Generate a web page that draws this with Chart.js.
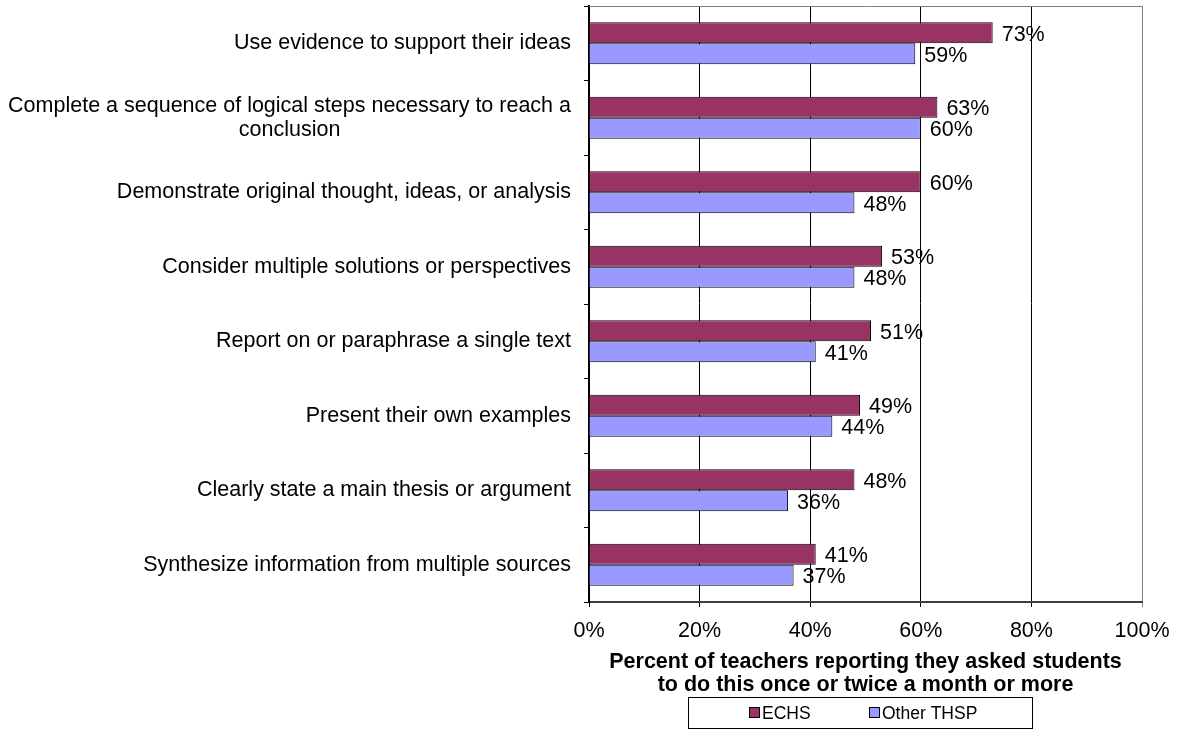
<!DOCTYPE html>
<html>
<head>
<meta charset="utf-8">
<script src="https://cdn.jsdelivr.net/npm/chart.js@4/dist/chart.umd.min.js"></script>
<style>
  body { margin: 0; background: #fff; }
</style>
</head>
<body>
<canvas id="grafico" width="1178" height="730"></canvas>
<script>
/* Categories (top to bottom) and the two series, in percent */
var categorias = [
    'Use evidence to support their ideas',
    ['Complete a sequence of logical steps necessary to reach a', 'conclusion'],
    'Demonstrate original thought, ideas, or analysis',
    'Consider multiple solutions or perspectives',
    'Report on or paraphrase a single text',
    'Present their own examples',
    'Clearly state a main thesis or argument',
    'Synthesize information from multiple sources'
];
var valoresECHS = [73, 63, 60, 53, 51, 49, 48, 41];
var valoresOtros = [59, 60, 48, 48, 41, 44, 36, 37];
var nombresSeries = ['ECHS', 'Other THSP'];
var coloresSeries = ['#993366', '#9999FF'];
var tituloEjeX = ['Percent of teachers reporting they asked students', 'to do this once or twice a month or more'];

var fuente = 'Arial, "Liberation Sans", sans-serif';
var tamano = 21.5;

/* Gray line along the top of the plot area */
var marcoGris = {
    id: 'marcoGris',
    beforeDatasetsDraw: function (chart) {
        var a = chart.chartArea, c = chart.ctx;
        c.save();
        c.strokeStyle = '#808080';
        c.lineWidth = 1;
        c.beginPath();
        c.moveTo(a.left, Math.round(a.top) + 0.5);
        c.lineTo(a.right + 0.5, Math.round(a.top) + 0.5);
        c.stroke();
        c.restore();
    }
};

/* Category names to the left, wrapped lines centred on each other */
var etiquetasCategorias = {
    id: 'etiquetasCategorias',
    afterDraw: function (chart) {
        var c = chart.ctx, escalaY = chart.scales.y;
        c.save();
        c.font = tamano + 'px ' + fuente;
        c.fillStyle = '#000';
        c.textAlign = 'center';
        c.textBaseline = 'middle';
        categorias.forEach(function (cat, i) {
            var lineas = Array.isArray(cat) ? cat : [cat];
            var ancho = Math.max.apply(null, lineas.map(function (l) { return c.measureText(l).width; }));
            var cx = chart.chartArea.left - 18 - ancho / 2;
            var cy = escalaY.getPixelForValue(i) - (lineas.length - 1) * 12;
            lineas.forEach(function (l, j) { c.fillText(l, cx, cy + j * 24); });
        });
        c.restore();
    }
};

/* Value labels at the end of every bar */
var etiquetasValores = {
    id: 'etiquetasValores',
    afterDatasetsDraw: function (chart) {
        var c = chart.ctx;
        c.save();
        c.font = tamano + 'px ' + fuente;
        c.fillStyle = '#000';
        c.textAlign = 'left';
        c.textBaseline = 'middle';
        chart.data.datasets.forEach(function (ds, d) {
            chart.getDatasetMeta(d).data.forEach(function (barra, i) {
                c.fillText(ds.data[i] + '%', barra.x + 9, barra.y + 2);
            });
        });
        c.restore();
    }
};

/* Boxed legend under the axis title */
var leyendaCaja = {
    id: 'leyendaCaja',
    afterDraw: function (chart) {
        var c = chart.ctx;
        c.save();
        c.strokeStyle = '#000';
        c.lineWidth = 1;
        c.strokeRect(688.5, 697.5, 344, 31);
        c.font = '17.5px ' + fuente;
        c.textBaseline = 'middle';
        c.textAlign = 'left';
        var posiciones = [749, 869];
        nombresSeries.forEach(function (nombre, i) {
            var x = posiciones[i];
            c.fillStyle = coloresSeries[i];
            c.fillRect(x, 707, 10, 10);
            c.strokeStyle = '#000';
            c.strokeRect(x + 0.5, 707.5, 10, 10);
            c.fillStyle = '#000';
            c.fillText(nombre, x + 13, 714);
        });
        c.restore();
    }
};

var marco = document.getElementById('grafico').getContext('2d');

var grafico = new Chart(marco, {
    type: 'bar',
    data: {
        labels: categorias,
        datasets: [{
            label: nombresSeries[0],
            data: valoresECHS,
            backgroundColor: coloresSeries[0],
            borderColor: '#000',
            borderWidth: 1,
            categoryPercentage: 0.564,
            barPercentage: 1
        }, {
            label: nombresSeries[1],
            data: valoresOtros,
            backgroundColor: coloresSeries[1],
            borderColor: '#000',
            borderWidth: 1,
            categoryPercentage: 0.564,
            barPercentage: 1
        }]
    },
    options: {
        indexAxis: 'y',
        responsive: false,
        animation: false,
        layout: { padding: { top: 6, right: 36, left: 0, bottom: 0 } },
        plugins: {
            legend: { display: false },
            tooltip: { enabled: false }
        },
        scales: {
            x: {
                min: 0,
                max: 100,
                ticks: {
                    stepSize: 20,
                    padding: 11,
                    color: '#000',
                    font: { size: tamano, family: fuente },
                    callback: function (v) { return v + '%'; }
                },
                grid: {
                    color: function (ctx) { return ctx.tick && ctx.tick.value === 100 ? '#808080' : '#000'; },
                    tickLength: 5,
                    lineWidth: 1
                },
                border: { color: '#404040', width: 2 },
                title: {
                    display: true,
                    text: tituloEjeX,
                    color: '#000',
                    font: { size: tamano, weight: 'bold', family: fuente, lineHeight: 1.05 },
                    padding: { top: 0, bottom: 34 }
                },
                afterFit: function (escala) {
                    escala.height = 128;
                    escala.paddingRight = 0;
                    escala.paddingLeft = 0;
                }
            },
            y: {
                ticks: { display: false },
                grid: { drawOnChartArea: false, tickLength: 5, color: '#000' },
                border: { color: '#000', width: 2 },
                afterFit: function (escala) { escala.width = 589; }
            }
        }
    },
    plugins: [marcoGris, etiquetasCategorias, etiquetasValores, leyendaCaja]
});
</script>
</body>
</html>
